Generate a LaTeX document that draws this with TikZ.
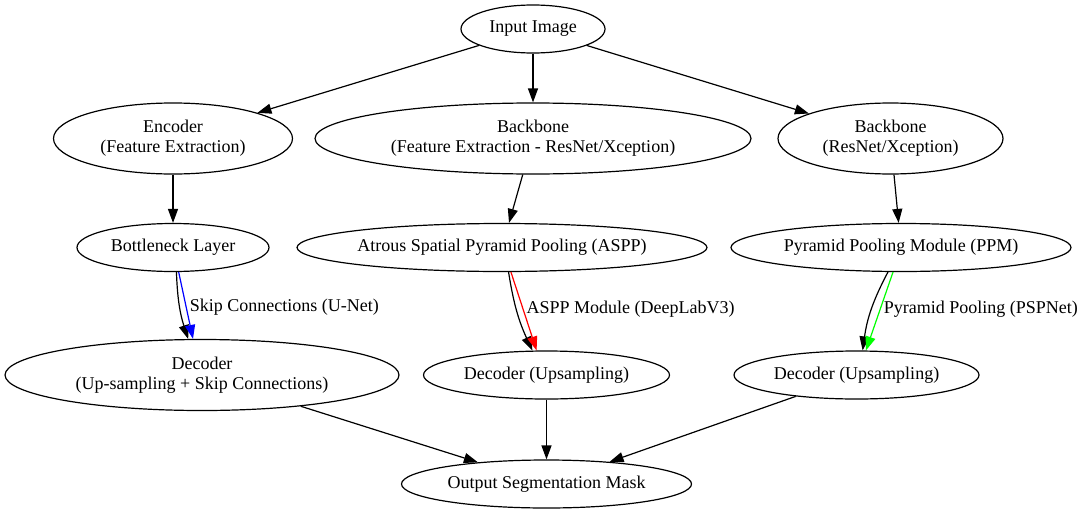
\documentclass[tikz,border=0pt]{standalone}
\usepackage{fontspec}
\setmainfont{Liberation Serif}
\usepackage{tikz}
\usetikzlibrary{shapes.geometric, arrows.meta}
\definecolor{pspgreen}{RGB}{0,255,0}

\begin{document}
\begin{tikzpicture}[x=1pt, y=-1pt, line width=1.2pt, >={Triangle[length=14pt, width=10pt]},
                every node/.style={font=\fontsize{18}{20}\selectfont},
                blob/.style={draw, ellipse, inner sep=0pt, align=center, minimum height=48pt},
                tall/.style={blob, minimum height=71pt},
                lbl/.style={right, inner sep=0pt, xshift=3pt, text=black}]
                \useasboundingbox (0,0) rectangle (1086,514);

                \node[blob, minimum width=144pt] (input) at (533,29) {Input Image};

                \node[tall, minimum width=239pt] (enc) at (173,138.5) {Encoder\\(Feature Extraction)};
                \node[tall, minimum width=436pt] (bb) at (533,138.5) {Backbone\\(Feature Extraction - ResNet/Xception)};
                \node[tall, minimum width=225pt] (bbr) at (890.5,138.5) {Backbone\\(ResNet/Xception)};

                \node[blob, minimum width=192pt] (bneck) at (173,247.5) {Bottleneck Layer};
                \node[blob, minimum width=410pt] (aspp) at (502,247.5) {Atrous Spatial Pyramid Pooling (ASPP)};
                \node[blob, minimum width=340pt] (ppm) at (901,247.5) {Pyramid Pooling Module (PPM)};

                \node[tall, minimum width=394pt] (decl) at (202,375) {Decoder\\(Up-sampling + Skip Connections)};
                \node[blob, minimum width=246pt] (decm) at (546.5,375) {Decoder (Upsampling)};
                \node[blob, minimum width=245pt] (decr) at (856.5,375) {Decoder (Upsampling)};

                \node[blob, minimum width=290pt] (out) at (546.5,484) {Output Segmentation Mask};

                \draw[->] (input) -- (enc);
                \draw[->] (input) -- (bb);
                \draw[->] (input) -- (bbr);
                \draw[->] (enc) -- (bneck);
                \draw[->] (bb) -- (aspp);
                \draw[->] (bbr) -- (ppm);

                \draw[->] (bneck.-82) to[bend right=8] (decl.111);
                \draw[->, blue] (bneck.-77) -- node[lbl, pos=0.53]{Skip Connections (U-Net)} (decl.104);
                \draw[->] (aspp.-75) to[bend right=8] (decm.120);
                \draw[->, red] (aspp.-70) -- node[lbl, pos=0.47]{ASPP Module (DeepLabV3)} (decm.112);
                \draw[->] (ppm.-118) to[bend right=10] (decr.76);
                \draw[->, pspgreen] (ppm.-108) -- node[lbl, pos=0.47]{Pyramid Pooling (PSPNet)} (decr.69);

                \draw[->] (decl) -- (out);
                \draw[->] (decm) -- (out);
                \draw[->] (decr) -- (out);
            \end{tikzpicture}
\end{document}
